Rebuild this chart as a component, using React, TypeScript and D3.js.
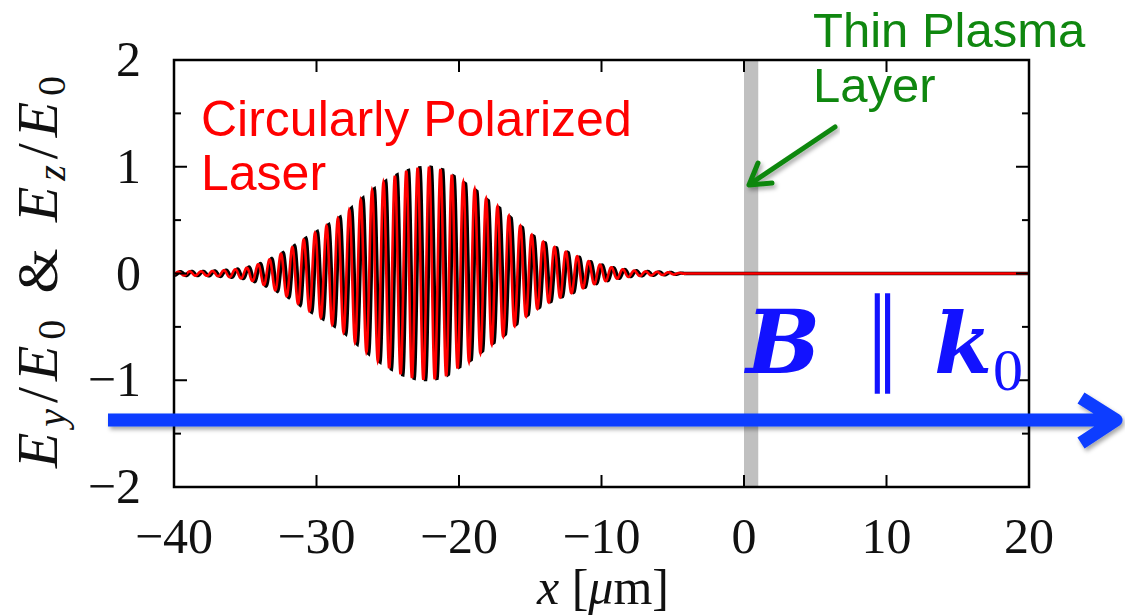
import React from 'react';
import * as d3 from 'd3';

// axis ticks
const X_TICKS = [-40, -30, -20, -10, 0, 10, 20];
const Y_TICKS = [-2, -1, 0, 1, 2];
const Y_MINOR = [-1.5, -0.5, 0.5, 1.5];

// pulse envelope (x in um, amplitude in E0)
const ENV_X = [-40, -39, -38, -37, -36, -35, -34, -33, -32, -31, -30, -29, -28, -27, -26, -25, -24, -23, -22,
  -21, -20, -19, -18, -17, -16, -15, -14, -13, -12, -11, -10, -9, -8, -7, -6, -5, -4, 20];
const ENV_A = [0.015, 0.02, 0.02, 0.025, 0.035, 0.05, 0.09, 0.15, 0.22, 0.31, 0.39, 0.47, 0.56, 0.68, 0.79, 0.88, 0.95, 0.99, 1.0,
  0.97, 0.88, 0.8, 0.69, 0.6, 0.48, 0.37, 0.29, 0.23, 0.18, 0.12, 0.08, 0.05, 0.03, 0.02, 0.015, 0.01, 0, 0];

const WAVELENGTH = 0.8; // um
const PEAK_X = -22.1;   // a crest of the red field
const SHIFT = 0.15;     // black field lags the red one slightly
const LAYER = [0, 1];   // thin plasma layer, um

const W = 1125;
const H = 616;
const plot = { left: 174, right: 1029, top: 60, bottom: 487 };

const App: React.FC = () => {
  const x = d3.scaleLinear().domain([-40, 20]).range([plot.left, plot.right]);
  const y = d3.scaleLinear().domain([-2, 2]).range([plot.bottom, plot.top]);
  const env = d3.scaleLinear().domain(ENV_X).range(ENV_A).clamp(true);

  const xs = d3.range(-40, 20.001, 0.02);
  const ey = xs.map(v => [v, env(v) * Math.cos((2 * Math.PI * (v - PEAK_X)) / WAVELENGTH)] as [number, number]);
  const ez = xs.map(v => [v, env(v) * Math.cos((2 * Math.PI * (v - PEAK_X - SHIFT)) / WAVELENGTH)] as [number, number]);
  const line = d3.line<[number, number]>().x(d => x(d[0])).y(d => y(d[1]));

  const serif = '"Liberation Serif", "Times New Roman", serif';
  const sans = '"Liberation Sans", Arial, sans-serif';
  const green = '#0f870f';
  const blue = '#0a3cff';
  const textBlue = '#1212ff';

  return (
    <svg width={W} height={H} style={{ position: 'absolute', left: 0, top: 0, background: '#fff' }}>
      <defs>
        <filter id="shadow" x="-5%" y="-50%" width="110%" height="200%">
          <feDropShadow dx="2" dy="3" stdDeviation="2" floodColor="#000" floodOpacity="0.35" />
        </filter>
      </defs>
      <rect width={W} height={H} fill="#fff" />

      {/* plasma layer */}
      <rect x={x(LAYER[0])} y={plot.top} width={x(LAYER[1]) - x(LAYER[0])} height={plot.bottom - plot.top} fill="#c0c0c0" />

      {/* fields */}
      <path d={line(ez) || ''} fill="none" stroke="#000" strokeWidth={3.4} />
      <path d={line(ey) || ''} fill="none" stroke="#ff0000" strokeWidth={2.6} />

      {/* frame and ticks */}
      <rect x={plot.left} y={plot.top} width={plot.right - plot.left} height={plot.bottom - plot.top} fill="none" stroke="#000" strokeWidth={2.5} />
      {X_TICKS.slice(1, -1).map(t => (
        <g key={'xt' + t}>
          <line x1={x(t)} x2={x(t)} y1={plot.bottom} y2={plot.bottom - 12} stroke="#000" strokeWidth={2} />
          <line x1={x(t)} x2={x(t)} y1={plot.top} y2={plot.top + 12} stroke="#000" strokeWidth={2} />
        </g>
      ))}
      {Y_TICKS.slice(1, -1).map(t => (
        <g key={'yt' + t}>
          <line x1={plot.left} x2={plot.left + 13} y1={y(t)} y2={y(t)} stroke="#000" strokeWidth={2} />
          <line x1={plot.right} x2={plot.right - 13} y1={y(t)} y2={y(t)} stroke="#000" strokeWidth={2} />
        </g>
      ))}
      {Y_MINOR.map(t => (
        <g key={'ym' + t}>
          <line x1={plot.left} x2={plot.left + 7} y1={y(t)} y2={y(t)} stroke="#000" strokeWidth={2} />
          <line x1={plot.right} x2={plot.right - 7} y1={y(t)} y2={y(t)} stroke="#000" strokeWidth={2} />
        </g>
      ))}

      {/* tick labels */}
      {X_TICKS.map(t => (
        <text key={'xl' + t} x={x(t)} y={553} textAnchor="middle" fontFamily={serif} fontSize={50} fill="#111">
          {t < 0 ? '\u2212' + Math.abs(t) : String(t)}
        </text>
      ))}
      {Y_TICKS.map(t => (
        <text key={'yl' + t} x={141} y={y(t) + 16} textAnchor="end" fontFamily={serif} fontSize={50} fill="#111">
          {t < 0 ? '\u2212' + Math.abs(t) : String(t)}
        </text>
      ))}

      {/* axis titles */}
      <text x={603} y={604} textAnchor="middle" fontFamily={serif} fontSize={50} fill="#111">
        <tspan fontStyle="italic">x</tspan> [<tspan fontStyle="italic">μ</tspan>m]
      </text>
      <text transform="translate(57,272) rotate(-90)" textAnchor="middle" fontFamily={serif} fontSize={58} fill="#111"
        textLength={392} lengthAdjust="spacing">
        <tspan fontStyle="italic">E</tspan>
        <tspan fontStyle="italic" fontSize={40} dy={8}>y</tspan>
        <tspan dy={-8}>/</tspan>
        <tspan fontStyle="italic">E</tspan>
        <tspan fontSize={40} dy={8}>0</tspan>
        <tspan dy={-8}> &amp; </tspan>
        <tspan fontStyle="italic">E</tspan>
        <tspan fontStyle="italic" fontSize={40} dy={8}>z</tspan>
        <tspan dy={-8}>/</tspan>
        <tspan fontStyle="italic">E</tspan>
        <tspan fontSize={40} dy={8}>0</tspan>
      </text>

      {/* annotations */}
      <text fontFamily={sans} fontSize={50} fill="#ff0000">
        <tspan x={201} y={136}>Circularly Polarized</tspan>
        <tspan x={201} y={190}>Laser</tspan>
      </text>
      <text fontFamily={sans} fontSize={49} fill={green}>
        <tspan x={813} y={47}>Thin Plasma</tspan>
        <tspan x={813} y={102}>Layer</tspan>
      </text>
      <g stroke={green} strokeWidth={5} strokeLinecap="round" strokeLinejoin="round" fill="none" filter="url(#shadow)">
        <line x1={835} y1={127} x2={750} y2={184} />
        <polyline points="758,163 749,185 772,183" />
      </g>

      {/* B || k0 */}
      <text x={746} y={373} fontFamily='"DejaVu Serif", serif' fontWeight="bold" fontStyle="italic" fontSize={88} fill={textBlue}>B</text>
      <text x={882} y={372} textAnchor="middle" fontFamily={serif} fontSize={66} fill={textBlue}
        transform="translate(0,-205) scale(1,1.55)">∥</text>
      <text x={934} y={373} fontFamily='"DejaVu Serif", serif' fontWeight="bold" fontStyle="italic" fontSize={84} fill={textBlue}>k</text>
      <text x={993} y={390} fontFamily={serif} fontSize={60} fill={textBlue}>0</text>

      {/* field direction arrow */}
      <g stroke={blue} strokeWidth={13} strokeLinecap="round" strokeLinejoin="round" fill="none" filter="url(#shadow)">
        <path d="M108,420 L1114,420 M1081,398 L1116,420 L1081,443" strokeLinecap="butt" />
      </g>
    </svg>
  );
};

export default App;
